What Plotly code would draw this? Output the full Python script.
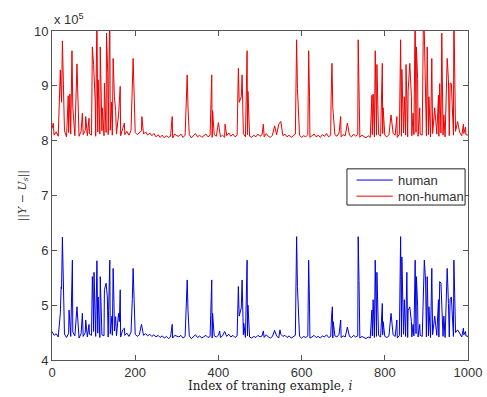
import plotly.graph_objects as go

# x positions of the baseline samples (every 5 examples)
base_x = list(range(0, 1001, 5))

human_base = [
    4.52, 4.45, 4.48, 4.42, 4.50, 4.44, 4.47, 4.41, 4.49, 4.43, 4.51, 4.44, 4.46, 4.40, 4.48, 4.43, 4.50, 4.42, 4.47, 4.45,
    4.52, 4.43, 4.49, 4.41, 4.46, 4.44, 4.50, 4.42, 4.48, 4.45, 4.53, 4.44, 4.47, 4.42, 4.55, 4.45, 4.49, 4.43, 4.51, 4.44, 4.47,
    4.43, 4.46, 4.49, 4.45, 4.48, 4.44, 4.47, 4.43, 4.46, 4.42, 4.45, 4.41, 4.44, 4.40, 4.43, 4.39, 4.42, 4.40, 4.45, 4.43,
    4.42, 4.45, 4.40, 4.43, 4.41, 4.44, 4.39, 4.43, 4.46, 4.41, 4.44, 4.40, 4.42, 4.45, 4.41, 4.43, 4.40, 4.44, 4.42, 4.45,
    4.41, 4.44, 4.40, 4.43, 4.47, 4.42, 4.45, 4.41, 4.44, 4.40, 4.43, 4.46, 4.41, 4.44, 4.42, 4.40, 4.43, 4.41, 4.45, 4.42,
    4.44, 4.41, 4.46, 4.42, 4.40, 4.43, 4.41, 4.44, 4.40, 4.47, 4.43, 4.45, 4.41, 4.44, 4.40, 4.42, 4.45, 4.41, 4.43, 4.40,
    4.43, 4.41, 4.44, 4.40, 4.42, 4.45, 4.41, 4.43, 4.40, 4.44, 4.42, 4.46, 4.41, 4.43, 4.40, 4.44, 4.42, 4.47, 4.41, 4.44,
    4.42, 4.40, 4.43, 4.41, 4.45, 4.42, 4.44, 4.40, 4.43, 4.41, 4.39, 4.42, 4.40, 4.44, 4.41, 4.43, 4.45, 4.42, 4.46, 4.43,
    4.41, 4.44, 4.42, 4.46, 4.43, 4.40, 4.45, 4.42, 4.47, 4.43, 4.41, 4.45, 4.42, 4.44, 4.48, 4.42, 4.45, 4.43, 4.46, 4.42,
    4.44, 4.41, 4.46, 4.43, 4.45, 4.42, 4.47, 4.43, 4.41, 4.45, 4.42, 4.46, 4.43, 4.50, 4.44, 4.48, 4.42, 4.46, 4.44, 4.43,
]

nonhuman_base = [
    8.22, 8.10, 8.16, 8.08, 8.14, 8.11, 8.18, 8.07, 8.15, 8.12, 8.20, 8.09, 8.14, 8.08, 8.17, 8.11, 8.19, 8.09, 8.13, 8.10,
    8.21, 8.08, 8.16, 8.12, 8.18, 8.09, 8.15, 8.11, 8.19, 8.10, 8.23, 8.12, 8.16, 8.09, 8.24, 8.11, 8.17, 8.10, 8.19, 8.12, 8.15,
    8.11, 8.15, 8.18, 8.12, 8.16, 8.10, 8.14, 8.09, 8.13, 8.07, 8.11, 8.06, 8.10, 8.05, 8.09, 8.06, 8.08, 8.05, 8.12, 8.09,
    8.08, 8.12, 8.06, 8.10, 8.07, 8.11, 8.05, 8.09, 8.13, 8.07, 8.10, 8.06, 8.09, 8.12, 8.07, 8.10, 8.06, 8.11, 8.08, 8.12,
    8.07, 8.10, 8.06, 8.09, 8.14, 8.08, 8.12, 8.07, 8.10, 8.06, 8.09, 8.13, 8.07, 8.11, 8.08, 8.06, 8.10, 8.07, 8.12, 8.08,
    8.11, 8.07, 8.13, 8.08, 8.06, 8.10, 8.07, 8.11, 8.06, 8.15, 8.09, 8.12, 8.07, 8.10, 8.06, 8.09, 8.12, 8.07, 8.10, 8.06,
    8.09, 8.07, 8.11, 8.06, 8.09, 8.12, 8.07, 8.10, 8.06, 8.11, 8.08, 8.13, 8.07, 8.10, 8.06, 8.11, 8.08, 8.14, 8.07, 8.11,
    8.09, 8.06, 8.10, 8.07, 8.12, 8.08, 8.11, 8.06, 8.10, 8.07, 8.05, 8.09, 8.06, 8.11, 8.07, 8.10, 8.12, 8.08, 8.13, 8.10,
    8.07, 8.11, 8.08, 8.13, 8.10, 8.06, 8.12, 8.08, 8.14, 8.10, 8.07, 8.12, 8.09, 8.11, 8.15, 8.08, 8.12, 8.10, 8.13, 8.09,
    8.11, 8.07, 8.13, 8.10, 8.12, 8.08, 8.14, 8.10, 8.07, 8.12, 8.09, 8.13, 8.10, 8.17, 8.11, 8.15, 8.09, 8.13, 8.11, 8.10,
]

# spikes: index and value (x 1e5)
human_spike_x = [20, 22, 23, 25, 41, 47, 49, 60, 73, 81, 89, 97, 99, 101, 106, 108, 111, 116, 126, 130,
                 133, 136, 139, 144, 147, 149, 153, 160, 162, 164, 174, 193, 195, 215, 289, 325, 327, 384, 386, 403,
                 415, 448, 450, 455, 457, 459, 461, 469, 471, 508, 535, 548, 588, 590, 617, 619, 672, 674, 676, 694,
                 710, 736, 738, 769, 772, 777, 781, 794, 796, 815, 829, 836, 838, 841, 847, 853, 856, 860, 864, 868,
                 873, 876, 879, 884, 895, 898, 902, 906, 913, 920, 929, 932, 935, 942, 950, 953, 957, 960, 966, 968,
                 975, 989, 994]
human_spike_y = [4.85, 5.33, 5.30, 6.24, 4.91, 5.13, 5.82, 4.97, 4.85, 4.73, 4.65, 5.52, 5.05, 5.60, 4.90, 5.81, 5.15, 5.52, 5.28, 5.40,
                 5.15, 4.90, 5.82, 4.80, 5.67, 5.05, 4.79, 4.85, 4.70, 5.28, 4.58, 5.10, 5.67, 4.65, 4.65, 5.46, 4.90, 5.46, 4.85, 4.53,
                 4.52, 5.34, 4.80, 4.95, 5.46, 4.95, 4.67, 5.82, 5.00, 4.53, 4.54, 4.55, 6.25, 5.34, 5.82, 5.00, 4.80, 4.97, 4.70, 4.73,
                 4.60, 6.25, 5.45, 4.91, 5.10, 5.82, 5.60, 5.03, 4.70, 4.85, 4.73, 5.50, 6.25, 5.88, 5.10, 5.60, 4.90, 4.97, 4.70, 4.65,
                 5.82, 5.52, 4.97, 4.65, 5.82, 5.46, 5.52, 4.97, 5.67, 4.80, 5.10, 5.43, 5.40, 4.80, 5.67, 5.03, 5.10, 5.15, 5.82, 5.20,
                 4.55, 4.58, 4.52]

nonhuman_spike_x = [3, 20, 21, 23, 25, 39, 43, 48, 50, 60, 73, 81, 89, 97, 100, 104, 108, 111, 116, 121,
                    126, 131, 134, 139, 143, 147, 150, 153, 160, 164, 174, 195, 197, 216, 289, 325, 327, 384, 386, 400,
                    416, 448, 450, 455, 457, 459, 469, 471, 508, 535, 545, 550, 588, 590, 617, 619, 671, 673, 675, 694,
                    710, 736, 738, 769, 772, 777, 781, 794, 796, 815, 829, 836, 838, 841, 847, 851, 856, 860, 864, 868,
                    873, 876, 879, 884, 893, 895, 898, 902, 906, 913, 920, 929, 932, 937, 942, 950, 953, 957, 960, 966,
                    968, 975, 989, 994]
nonhuman_spike_y = [8.32, 9.29, 8.99, 8.70, 9.82, 8.82, 8.85, 9.64, 8.60, 9.40, 8.50, 8.44, 8.41, 9.71, 9.39, 8.70, 10.4, 9.11, 9.71, 8.60,
                    9.05, 9.96, 9.23, 10.4, 8.70, 9.50, 8.80, 8.55, 8.47, 8.99, 8.32, 9.50, 8.90, 8.44, 8.44, 9.20, 8.60, 9.20, 8.55, 8.33,
                    8.30, 9.32, 8.70, 8.80, 9.20, 8.47, 9.64, 8.90, 8.30, 8.27, 8.30, 8.35, 9.84, 8.95, 9.64, 8.80, 8.80, 9.41, 8.60, 8.44,
                    8.32, 9.84, 8.95, 8.83, 8.85, 9.64, 9.39, 9.41, 8.60, 8.47, 8.44, 9.41, 9.84, 9.30, 8.80, 9.39, 8.90, 9.41, 8.80, 8.50,
                    10.4, 9.71, 9.11, 8.60, 10.4, 9.96, 8.90, 9.71, 8.80, 9.50, 8.60, 8.83, 9.04, 9.96, 8.47, 9.50, 9.11, 9.05, 9.04, 10.4,
                    9.00, 8.35, 8.30, 8.25]

series_names = ["human", "non-human"]
series_colors = ["#0000e6", "#ee0000"]
x_ticks = [0, 200, 400, 600, 800, 1000]
y_ticks = [4, 5, 6, 7, 8, 9, 10]


def merge(bx, by, sx, sy):
    pts = dict(zip(bx, by))
    pts.update(dict(zip(sx, sy)))
    xs = sorted(pts)
    return xs, [pts[k] for k in xs]


hx, hy = merge(base_x, human_base, human_spike_x, human_spike_y)
nx, ny = merge(base_x, nonhuman_base, nonhuman_spike_x, nonhuman_spike_y)

fig = go.Figure()
fig.add_trace(go.Scatter(x=hx, y=hy, mode="lines", name=series_names[0], showlegend=False,
                         line=dict(color=series_colors[0], width=1)))
fig.add_trace(go.Scatter(x=nx, y=ny, mode="lines", name=series_names[1], showlegend=False,
                         line=dict(color=series_colors[1], width=1)))

axis_common = dict(showgrid=False, zeroline=False, showline=True, mirror="ticks",
                   linecolor="#555555", linewidth=1, ticks="inside", ticklen=5,
                   tickcolor="#555555", automargin=False,
                   tickfont=dict(family="Liberation Sans, Arial", size=13, color="#333333"))

# hand-built MATLAB-style legend box
shapes = [dict(type="rect", xref="paper", yref="paper", x0=0.709, x1=0.993, y0=0.471, y1=0.581,
               line=dict(color="#222222", width=1), fillcolor="white", layer="above")]
annotations = []
for i, (nm, col) in enumerate(zip(series_names, series_colors)):
    yy = 0.547 - i * 0.049
    shapes.append(dict(type="line", xref="paper", yref="paper", x0=0.732, x1=0.819, y0=yy, y1=yy,
                       line=dict(color=col, width=1), layer="above"))
    annotations.append(dict(text=nm, xref="paper", yref="paper", x=0.827, y=yy, xanchor="left",
                            yanchor="middle", showarrow=False,
                            font=dict(family="Liberation Sans, Arial", size=13, color="#333333")))

annotations += [
    dict(text="x 10<sup>5</sup>", xref="paper", yref="paper", x=0.0, y=1.0,
         xanchor="left", yanchor="bottom", yshift=2, showarrow=False,
         font=dict(family="Liberation Sans, Arial", size=13, color="#333333")),
    dict(text="||<i>Y</i> − <i>U</i><sub><i>s</i></sub>||", xref="paper", yref="paper",
         x=0, y=0.5, xanchor="center", yanchor="middle", xshift=-30, textangle=-90,
         showarrow=False,
         font=dict(family="DejaVu Serif", size=11, color="#333333")),
    dict(text="Index of traning example, <i>i</i>", xref="paper", yref="paper",
         x=0.5, y=0, xanchor="center", yanchor="top", xshift=10, yshift=-17, showarrow=False,
         font=dict(family="DejaVu Serif", size=12, color="#222222")),
]

fig.update_layout(
    width=487, height=397,
    margin=dict(l=52, r=19, t=31, b=37, autoexpand=False),
    paper_bgcolor="white", plot_bgcolor="white",
    xaxis=dict(range=[0, 1000], tickvals=x_ticks, **axis_common),
    yaxis=dict(range=[4, 10], tickvals=y_ticks, **axis_common),
    showlegend=False,
    shapes=shapes,
    annotations=annotations,
)

fig.write_html("out.html", config={"displayModeBar": False},
               post_script="document.body.style.margin='0';")
